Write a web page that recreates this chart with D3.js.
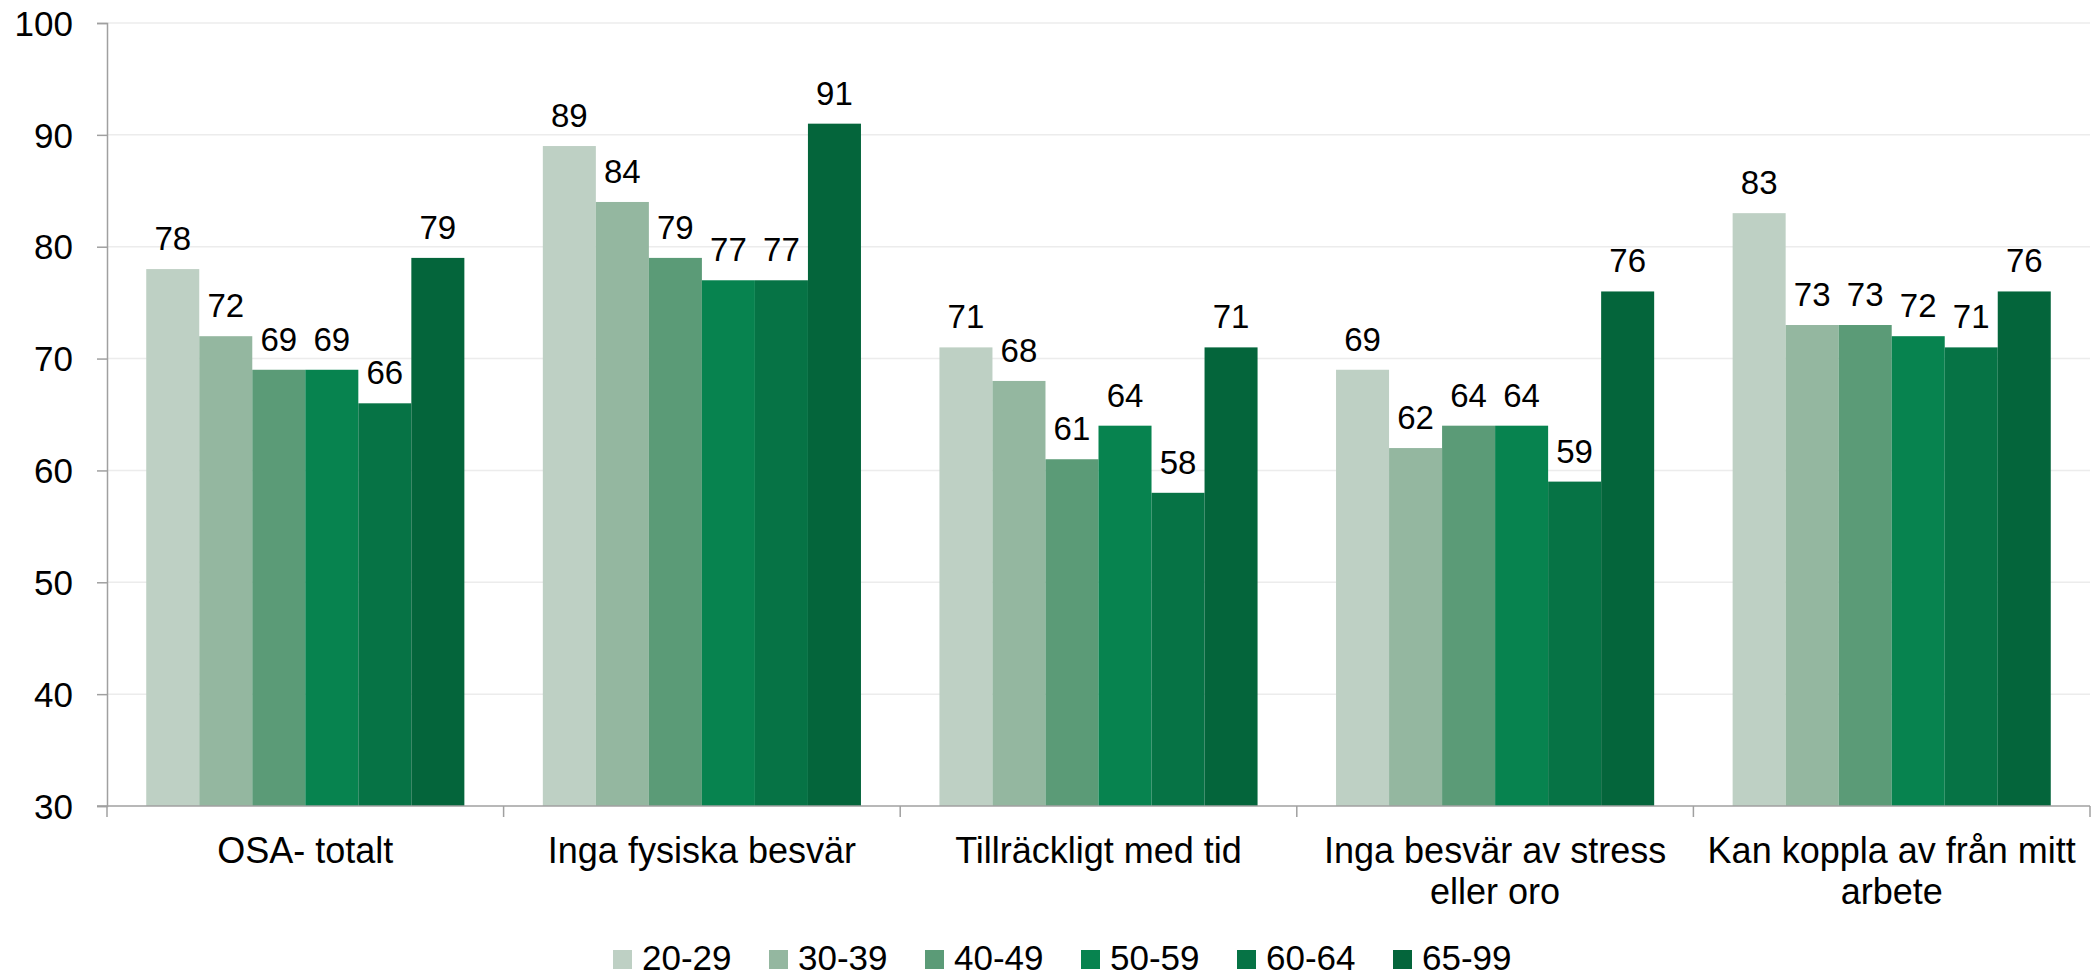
<!DOCTYPE html>
<html>
<head>
<meta charset="utf-8">
<script src="https://cdn.jsdelivr.net/npm/d3@7"></script>
<style>
  body { margin: 0; background: #fff; }
  text { font-family: "Liberation Sans", Arial, sans-serif; fill: #000; }
</style>
</head>
<body>
<div id="chart"></div>
<script>
var categories = ["OSA- totalt", "Inga fysiska besvär", "Tillräckligt med tid", "Inga besvär av stress\neller oro", "Kan koppla av från mitt\narbete"];
var groups = ["20-29", "30-39", "40-49", "50-59", "60-64", "65-99"];
var colors = ["#bed0c4", "#94b7a0", "#5b9b77", "#07834f", "#067345", "#04653b"];
var values = [
  [78, 72, 69, 69, 66, 79],
  [89, 84, 79, 77, 77, 91],
  [71, 68, 61, 64, 58, 71],
  [69, 62, 64, 64, 59, 76],
  [83, 73, 73, 72, 71, 76]
];
var yTicks = [30, 40, 50, 60, 70, 80, 90, 100];

var width = 2100, height = 975;
var margin = { top: 23, right: 10, bottom: 169, left: 107 };

var svg = d3.select("#chart").append("svg")
  .attr("width", width)
  .attr("height", height);

/* Scales */
var x0 = d3.scaleBand()
  .domain(categories)
  .range([margin.left, width - margin.right])
  .padding(0);

var x1 = d3.scaleBand()
  .domain(groups)
  .range([0, x0.bandwidth()])
  .paddingInner(0)
  .paddingOuter(0.74);

var y = d3.scaleLinear()
  .domain([30, 100])
  .range([height - margin.bottom, margin.top]);

var color = d3.scaleOrdinal().domain(groups).range(colors);

/* Grid */
svg.append("g")
  .selectAll("line")
  .data(yTicks.slice(1))
  .join("line")
  .attr("x1", margin.left)
  .attr("x2", width - margin.right)
  .attr("y1", d => y(d))
  .attr("y2", d => y(d))
  .attr("stroke", "#ececec")
  .attr("stroke-width", 1.5);

/* Bars */
var cat = svg.append("g")
  .selectAll("g")
  .data(values)
  .join("g")
  .attr("transform", (d, i) => `translate(${x0(categories[i])},0)`);

cat.selectAll("rect")
  .data(d => d.map((v, j) => ({ key: groups[j], value: v })))
  .join("rect")
  .attr("x", d => x1(d.key))
  .attr("width", x1.bandwidth())
  .attr("y", d => y(d.value))
  .attr("height", d => y(30) - y(d.value))
  .attr("fill", d => color(d.key));

cat.selectAll("text")
  .data(d => d.map((v, j) => ({ key: groups[j], value: v })))
  .join("text")
  .attr("x", d => x1(d.key) + x1.bandwidth() / 2)
  .attr("y", d => y(d.value) - 19)
  .attr("text-anchor", "middle")
  .attr("font-size", 33)
  .text(d => d.value);

/* Y axis */
var yAxis = d3.axisLeft(y).tickValues(yTicks).tickSize(10).tickPadding(24);
var gy = svg.append("g")
  .attr("transform", `translate(${margin.left},0)`)
  .call(yAxis);
gy.select(".domain").attr("stroke", "#a0a0a0").attr("stroke-width", 1.5);
gy.selectAll(".tick line").attr("stroke", "#a0a0a0").attr("stroke-width", 1.5);
gy.selectAll(".tick text").attr("font-size", 35).attr("dy", "0.35em");

/* X axis */
var gx = svg.append("g").attr("transform", `translate(0,${y(30)})`);
gx.append("line")
  .attr("x1", margin.left - 10)
  .attr("x2", width - margin.right)
  .attr("stroke", "#a0a0a0")
  .attr("stroke-width", 1.5);
var bounds = categories.map(c => x0(c)).concat([x0.range()[1]]);
gx.selectAll(".xt")
  .data(bounds)
  .join("line")
  .attr("class", "xt")
  .attr("x1", d => d).attr("x2", d => d)
  .attr("y1", 0).attr("y2", 11)
  .attr("stroke", "#a0a0a0")
  .attr("stroke-width", 1.5);

gx.selectAll(".xl")
  .data(categories)
  .join("text")
  .attr("class", "xl")
  .attr("text-anchor", "middle")
  .attr("font-size", 36)
  .attr("transform", d => `translate(${x0(d) + x0.bandwidth() / 2},57)`)
  .selectAll("tspan")
  .data(d => d.split("\n"))
  .join("tspan")
  .attr("x", 0)
  .attr("dy", (d, i) => i === 0 ? 0 : 41)
  .text(d => d);

/* Legend */
var legend = svg.append("g").attr("transform", "translate(613,950)");
var item = legend.selectAll("g")
  .data(groups)
  .join("g")
  .attr("transform", (d, i) => `translate(${i * 156},0)`);
item.append("rect")
  .attr("width", 19)
  .attr("height", 19)
  .attr("fill", d => color(d));
item.append("text")
  .attr("x", 29)
  .attr("y", 20)
  .attr("font-size", 35)
  .text(d => d);
</script>
</body>
</html>
